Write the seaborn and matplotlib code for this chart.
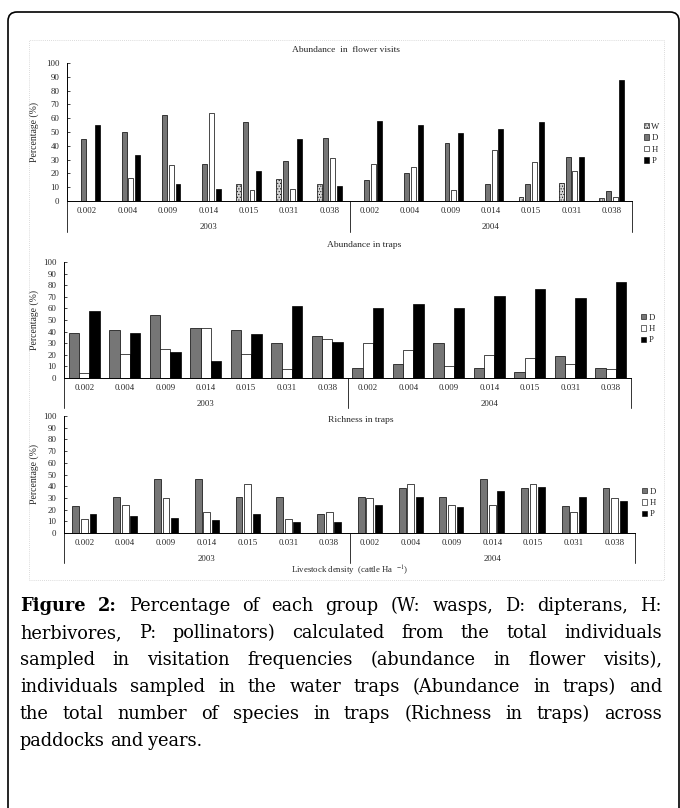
import matplotlib
matplotlib.use("Agg")
import numpy as np
import pandas as pd
import matplotlib.pyplot as plt
import matplotlib.transforms as mtransforms
from matplotlib.patches import FancyBboxPatch, Rectangle, Patch
from matplotlib.lines import Line2D
import seaborn as sns

# ---- data ----
densities = ["0.002", "0.004", "0.009", "0.014", "0.015", "0.031", "0.038"]
years = ["2003", "2004"]

# Abundance in flower visits (2003 then 2004)
flower_W = [0, 0, 0, 0, 12, 16, 12, 0, 0, 0, 0, 3, 13, 2]
flower_D = [45, 50, 62, 27, 57, 29, 46, 15, 20, 42, 12, 12, 32, 7]
flower_H = [0, 17, 26, 64, 8, 9, 31, 27, 25, 8, 37, 28, 22, 3]
flower_P = [55, 33, 12, 9, 22, 45, 11, 58, 55, 49, 52, 57, 32, 88]

# Abundance in traps
traps_D = [39, 41, 54, 43, 41, 30, 36, 9, 12, 30, 9, 5, 19, 9]
traps_H = [4, 21, 25, 43, 21, 8, 34, 30, 24, 10, 20, 17, 12, 8]
traps_P = [58, 39, 22, 15, 38, 62, 31, 60, 64, 60, 71, 77, 69, 83]

# Richness in traps
rich_D = [23, 31, 46, 46, 31, 31, 16, 31, 38.5, 31, 46, 38.5, 23, 38.5]
rich_H = [12, 24, 30, 18, 41.5, 12, 18, 29.5, 41.5, 24, 24, 41.5, 18, 29.5]
rich_P = [16, 14.5, 13, 11, 16, 9.5, 9.5, 24, 31, 22, 36, 39, 31, 27]

caption_lines = [
    "Figure 2: Percentage of each group (W: wasps, D: dipterans, H:",
    "herbivores, P: pollinators) calculated from the total individuals",
    "sampled in visitation frequencies (abundance in flower visits),",
    "individuals sampled in the water traps (Abundance in traps) and",
    "the total number of species in traps (Richness in traps) across",
    "paddocks and years.",
]

slots = [f"{y}-{d}" for y in years for d in densities]
colors = {"W": "#d4d4d4", "D": "#767676", "H": "#ffffff", "P": "#000000"}


def long_frame(series):
    rows = []
    for grp, vals in series.items():
        for i, v in enumerate(vals):
            rows.append({"slot": slots[i], "group": grp, "pct": v})
    return pd.DataFrame(rows)


sns.set_style("white")
plt.rcParams["font.family"] = ["Liberation Serif", "DejaVu Serif"]
plt.rcParams["mathtext.fontset"] = "stix"
plt.rcParams["hatch.linewidth"] = 0.4

W, H = 680, 808
fig = plt.figure(figsize=(W / 100, H / 100), dpi=100)
ident = mtransforms.IdentityTransform()

# outer box and inner dotted frame
fig.patches.append(FancyBboxPatch((8, -40), 671, H - 12 + 40, boxstyle="round,pad=0,rounding_size=9",
                                  transform=ident, fill=False, edgecolor="black", linewidth=1.2))
fig.patches.append(Rectangle((29, H - 580), 635, 540, transform=ident, fill=False,
                             edgecolor="#cfcfcf", linestyle=(0, (1, 1.5)), linewidth=0.6))

panels = [
    # series, rect (left, top, right, bottom px), width, gap, title, title pos, legend pos, divider drop
    ({"W": flower_W, "D": flower_D, "H": flower_H, "P": flower_P},
     (67, 63, 632, 201), 0.67, 0.27, "Abundance  in  flower visits", (346, 50), (644, 144), 31),
    ({"D": traps_D, "H": traps_H, "P": traps_P},
     (64, 262, 631, 378), 0.77, 0.0, "Abundance in traps", (364, 245), (641, 329), 30),
    ({"D": rich_D, "H": rich_H, "P": rich_P},
     (64, 416, 635, 533), 0.63, 0.2, "Richness in traps", (361, 420), (642, 503), 30),
]

for series, (l, t, r, b), bw, gp, title, tpos, lpos, drop in panels:
    ax = fig.add_axes([l / W, (H - b) / H, (r - l) / W, (b - t) / H])
    df = long_frame(series)
    groups = list(series.keys())
    sns.barplot(data=df, x="slot", y="pct", hue="group", order=slots, hue_order=groups,
                palette=[colors[g] for g in groups], width=bw, gap=gp, edgecolor="black",
                linewidth=0.5, saturation=1, legend=False, ax=ax)
    if "W" in groups:
        for bar in ax.containers[0]:
            bar.set_hatch("......")
    ax.set_xlim(-0.5, len(slots) - 0.5)
    ax.set_ylim(0, 100)
    ax.set_yticks(np.arange(0, 101, 10))
    ax.set_xticks(range(len(slots)))
    ax.set_xticklabels(densities * 2)
    ax.tick_params(axis="x", length=0, pad=4, labelsize=6.3)
    ax.tick_params(axis="y", direction="in", length=2.5, width=0.6, pad=5.5, labelsize=6.3, left=True)
    ax.set_xlabel("")
    ax.set_ylabel("Percentage (%)", fontsize=7)
    ax.yaxis.set_label_coords((39 - l) / (r - l), 0.5)
    for side in ["top", "right"]:
        ax.spines[side].set_visible(False)
    for side in ["left", "bottom"]:
        ax.spines[side].set_color("black")
        ax.spines[side].set_linewidth(0.7)

    # two-level category axis: year dividers and labels
    trans = mtransforms.blended_transform_factory(ax.transData, ax.transAxes)
    ah = b - t
    for xv in [-0.5, 6.5, 13.5]:
        ax.add_line(Line2D([xv, xv], [0, -drop / ah], transform=trans, clip_on=False,
                           color="#333333", linewidth=0.7))
    for k, yr in enumerate(years):
        ax.text(3 + 7 * k, -26 / ah, yr, transform=trans, ha="center", va="center", fontsize=6.3)

    fig.text(tpos[0] / W, (H - tpos[1]) / H, title, ha="center", va="center", fontsize=6.8)

    handles = [Patch(facecolor=colors[g], edgecolor="black", linewidth=0.4,
                     hatch="......" if g == "W" else None) for g in groups]
    ax.legend(handles, groups, loc="center left", bbox_to_anchor=(lpos[0] / W, (H - lpos[1]) / H),
              bbox_transform=fig.transFigure, frameon=False, fontsize=6.3, handlelength=0.6,
              handleheight=0.6, handletextpad=0.25, labelspacing=0.4, borderpad=0, borderaxespad=0)

fig.text(350 / W, (H - 571) / H, r"Livestock density  (cattle Ha  $^{-1}$)", ha="center", va="center",
         fontsize=6.3)

# justified caption
renderer = fig.canvas.get_renderer()
left_px, right_px = 20, 662
for k, line in enumerate(caption_lines):
    words = line.split()
    base = H - (611 + 27 * k)
    arts = []
    for j, w in enumerate(words):
        bold = k == 0 and j < 2
        arts.append(fig.text(0, base, w, transform=ident, fontsize=12.8, va="baseline", ha="left",
                             family=["DejaVu Serif"], color="black",
                             fontweight="bold" if bold else "normal"))
    widths = [a.get_window_extent(renderer).width for a in arts]
    if k < len(caption_lines) - 1:
        space = (right_px - left_px - sum(widths)) / (len(words) - 1)
    else:
        space = 5
    x = left_px
    for a, wd in zip(arts, widths):
        a.set_x(x)
        x += wd + space

fig.savefig("out.png", dpi=100)
